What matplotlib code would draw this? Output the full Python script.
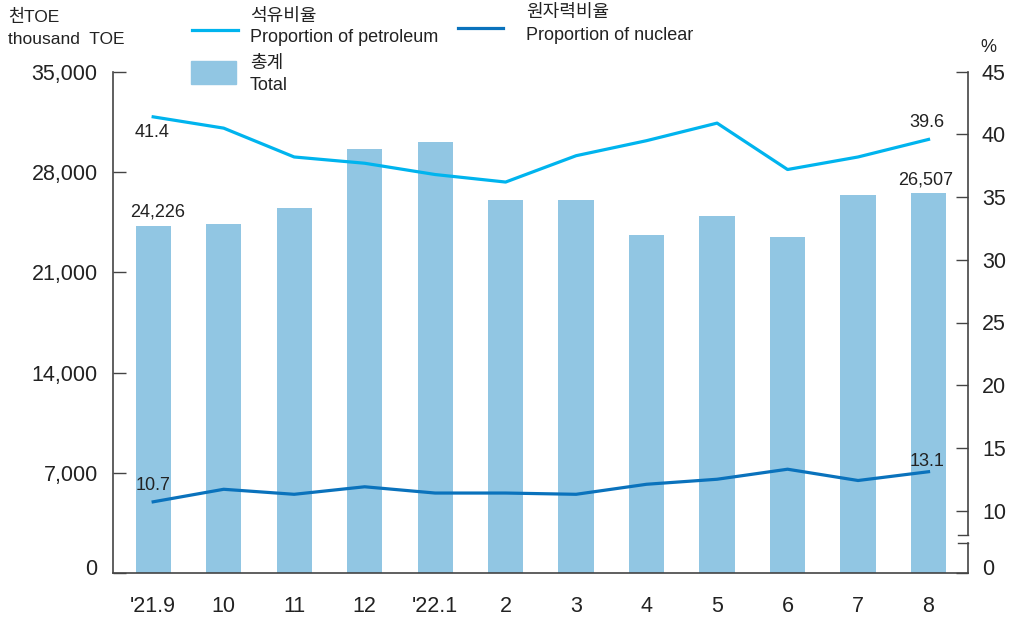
import matplotlib
matplotlib.use("Agg")
import matplotlib.pyplot as plt
from matplotlib.lines import Line2D
from matplotlib.patches import Rectangle
from matplotlib.transforms import ScaledTranslation

months = ["'21.9", "10", "11", "12", "'22.1", "2", "3", "4", "5", "6", "7", "8"]
total = [24226, 24375, 25490, 29610, 30100, 26050, 26050, 23610, 24930, 23470, 26400, 26507]
petroleum = [41.4, 40.5, 38.2, 37.7, 36.8, 36.2, 38.3, 39.5, 40.9, 37.2, 38.2, 39.6]
nuclear = [10.7, 11.7, 11.3, 11.9, 11.4, 11.4, 11.3, 12.1, 12.5, 13.3, 12.4, 13.1]
left_ticks = [0, 7000, 14000, 21000, 28000, 35000]
right_ticks = [10, 15, 20, 25, 30, 35, 40, 45]

BAR = "#91C6E3"
PET = "#00B4EE"
NUC = "#0A72BC"
TXT = "#222222"
FAM = ["Liberation Sans", "Noto Sans CJK KR"]
plt.rcParams["font.family"] = FAM

W, H = 1015, 618
fig = plt.figure(figsize=(W / 100, H / 100), dpi=100)
L, R, T, B = 113, 968, 71.7, 573.3
ax = fig.add_axes([L / W, 1 - B / H, (R - L) / W, (B - T) / H])
x = list(range(len(months)))
ax.bar(x, total, width=0.5, color=BAR, zorder=1)
ax.set_xlim(-0.57, 11.56)
ax.set_ylim(0, 35000)
ax.set_yticks(left_ticks)
ax.set_yticklabels([f"{v:,}" for v in left_ticks])
ax.set_xticks(x)
ax.set_xticklabels(months)
ax.tick_params(axis="y", direction="in", length=9, width=1, pad=11, labelsize=15.5, colors="#444444", labelcolor=TXT)
ax.tick_params(axis="x", length=0, pad=16, labelsize=15.5, labelcolor=TXT)
for s in ["top", "right"]:
    ax.spines[s].set_visible(False)
for s in ["left", "bottom"]:
    ax.spines[s].set_color("#444444")
    ax.spines[s].set_linewidth(1.2)

ax2 = ax.twinx()
ax2.plot(x, petroleum, color=PET, lw=2.3, zorder=3)
ax2.plot(x, nuclear, color=NUC, lw=2.3, zorder=3)
ax2.set_ylim(5, 45)
ax2.set_yticks([5] + right_ticks)
ax2.set_yticklabels(["0"] + [str(v) for v in right_ticks])
ax2.tick_params(axis="y", direction="in", length=9, width=1, pad=10, labelsize=15.5, colors="#444444", labelcolor=TXT)
for s in ax2.spines.values():
    s.set_visible(False)

# raise the "0" labels slightly, as in the reference
up = ScaledTranslation(0, 6 / 100, fig.dpi_scale_trans)
for lbl in [ax.get_yticklabels()[0], ax2.get_yticklabels()[0]]:
    lbl.set_transform(lbl.get_transform() + up)

# broken right spine
tr = ax2.get_yaxis_transform()
dx = 10 / (R - L)
ax2.plot([1, 1], [8.05, 45], transform=tr, color="#444444", lw=1.2, clip_on=False)
ax2.plot([1, 1], [5, 7.42], transform=tr, color="#444444", lw=1.2, clip_on=False)
ax2.plot([1 - dx, 1], [8.05, 8.05], transform=tr, color="#444444", lw=1.0, clip_on=False)
ax2.plot([1 - dx, 1], [7.42, 7.42], transform=tr, color="#444444", lw=1.0, clip_on=False)

# data labels
lab = dict(fontsize=13, color=TXT, ha="center", va="center")
ax.annotate(f"{total[0]:,}", (x[0], total[0]), xytext=(4, 14), textcoords="offset pixels", **lab)
ax.annotate(f"{total[-1]:,}", (x[-1], total[-1]), xytext=(-3, 13), textcoords="offset pixels", **lab)
ax2.annotate(f"{petroleum[0]}", (x[0], petroleum[0]), xytext=(-1, -16), textcoords="offset pixels", **lab)
ax2.annotate(f"{petroleum[-1]}", (x[-1], petroleum[-1]), xytext=(-2, 17), textcoords="offset pixels", **lab)
ax2.annotate(f"{nuclear[0]}", (x[0], nuclear[0]), xytext=(0, 16), textcoords="offset pixels", **lab)
ax2.annotate(f"{nuclear[-1]}", (x[-1], nuclear[-1]), xytext=(-1, 10), textcoords="offset pixels", **lab)

# axis unit labels
def fx(px):
    return px / W
def fy(py):
    return 1 - py / H

fig.text(fx(8), fy(17), "천TOE", fontsize=12.5, color=TXT, va="center", ha="left")
fig.text(fx(8), fy(40), "thousand  TOE", fontsize=12.5, color=TXT, va="center", ha="left")
fig.text(fx(988), fy(48), "%", fontsize=13, color=TXT, va="center", ha="center")

# legend
fig.add_artist(Line2D([fx(192), fx(238)], [fy(30), fy(30)], color=PET, lw=2.3))
fig.text(fx(250), fy(16), "석유비율", fontsize=13, color=TXT, va="center", ha="left")
fig.text(fx(250), fy(38), "Proportion of petroleum", fontsize=13, color=TXT, va="center", ha="left")
fig.add_artist(Line2D([fx(458), fx(503)], [fy(28), fy(28)], color=NUC, lw=2.3))
fig.text(fx(526), fy(13), "원자력비율", fontsize=13, color=TXT, va="center", ha="left")
fig.text(fx(526), fy(35), "Proportion of nuclear", fontsize=13, color=TXT, va="center", ha="left")
fig.add_artist(Rectangle((fx(191), fy(84)), fx(236) - fx(191), fy(61) - fy(84), color=BAR, transform=fig.transFigure))
fig.text(fx(250), fy(63), "총계", fontsize=13, color=TXT, va="center", ha="left")
fig.text(fx(250), fy(86), "Total", fontsize=13, color=TXT, va="center", ha="left")

fig.savefig("out.png", dpi=100)
